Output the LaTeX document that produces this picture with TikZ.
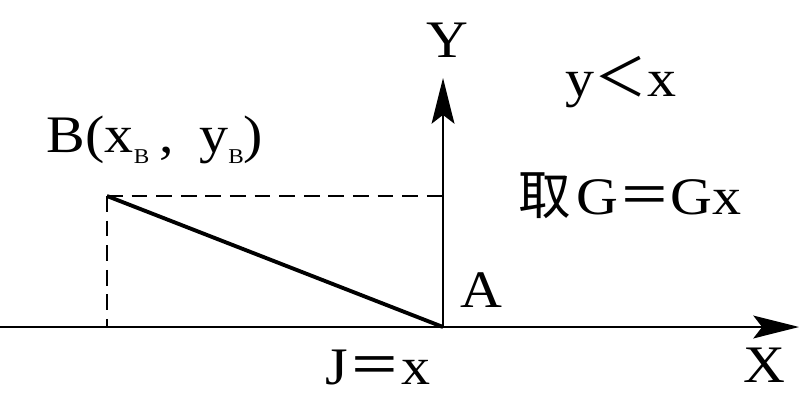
\documentclass[tikz,border=0pt]{standalone}
\usepackage{fontspec}
\setmainfont{Liberation Serif}[FakeStretch=1.1]
\newfontfamily\cjk{Noto Sans CJK SC}
\usepackage{tikz}
\usetikzlibrary{arrows.meta,positioning}

\begin{document}
\begin{tikzpicture}[x=0.02cm,y=-0.02cm,
  lbl/.style={inner sep=0pt,font=\fontsize{30}{32}\selectfont},
  axis/.style={line width=1.2pt,-{Stealth[length=26pt,width=13pt,inset=5pt]}},
  guide/.style={line width=1.1pt,dash pattern=on 9pt off 5pt}]
\useasboundingbox (0,0) rectangle (803,395);
% axes
\coordinate (O) at (443,327);
\coordinate (xs) at (0,327);
\coordinate (xe) at (799,327);
\coordinate (ye) at (443,78);
\draw[axis] (xs) -- (xe);
\draw[axis] (O) -- (ye);
\node[lbl] (ylab) at (447,40) {Y};
\node[lbl] (xlab) at (764,365) {X};
% point B and its projections
\coordinate (B) at (107,196);
\coordinate (Bx) at (107,327);
\coordinate (By) at (443,196);
\draw[guide] (B) -- (By);
\draw[guide] (B) -- (Bx);
\draw[line width=2.2pt] (B) -- (O);
\node[lbl] (blab) at (155,140) {B(x\raisebox{-6pt}{\fontsize{12}{12}\selectfont B}\hspace{0.2em}, \hspace{0.2em}y\raisebox{-6pt}{\fontsize{12}{12}\selectfont B})};
\node[lbl] (alab) at (481,290) {A};
\node[lbl] (jlab) at (378,367) {J{\cjk ＝}x};
% condition
\node[lbl] (cond) at (621,82) {y{\cjk ＜}x};
\node[lbl] (take) at (630,196) {{\cjk 取}\hspace{0.1em}G{\cjk ＝}Gx};
\end{tikzpicture}
\end{document}
